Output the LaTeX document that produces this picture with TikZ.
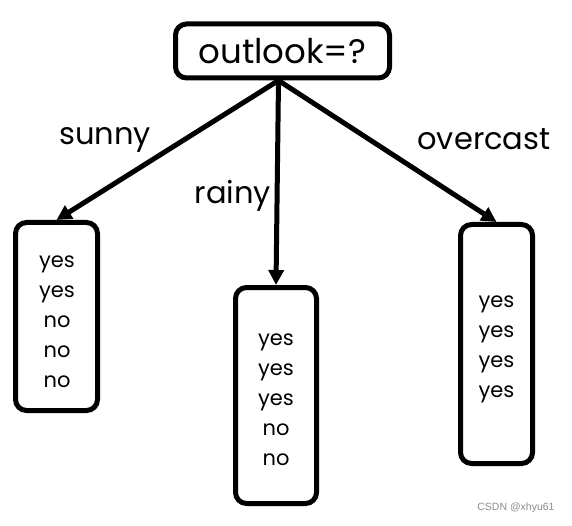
\documentclass[tikz,border=0pt]{standalone}
\usepackage{fontspec}
\setmainfont{Poppins}
\newfontfamily\wmfont{Liberation Sans}
\usetikzlibrary{arrows.meta}
\tikzset{
  box/.style={draw, line width=5pt, rounded corners=11pt, fill=white, inner sep=0pt},
  leaftext/.style={font=\fontsize{21}{30}\selectfont, align=center, inner sep=0pt},
  arr/.style={line width=5pt, -{Triangle[length=15pt,width=15pt]}},
  lbl/.style={font=\fontsize{30.5}{34}\selectfont, inner sep=0pt}
}
\begin{document}
\begin{tikzpicture}[x=1pt,y=-1pt]
\useasboundingbox (0,0) rectangle (572,526);
\node[box, minimum width=214pt, minimum height=54pt, font=\fontsize{34}{38}\selectfont] (root) at (282.5,51) {\raisebox{-1pt}{outlook=?}};
\node[box, minimum width=82pt, minimum height=188pt] (l) at (56.5,316.5) {};
\node[box, minimum width=81pt, minimum height=216pt] (m) at (276,395.5) {};
\node[box, minimum width=72pt, minimum height=239pt] (r) at (496.5,344) {};
\node[leaftext] (lt) at (57,322) {yes\\yes\\no\\no\\no};
\node[leaftext] (mt) at (276,400) {yes\\yes\\yes\\no\\no};
\node[leaftext] (rt) at (496.5,349) {yes\\yes\\yes\\yes};
\coordinate (s) at ([xshift=-4pt]root.south);
\draw[arr] (s) -- (l.north);
\draw[arr] (s) -- (m.north);
\draw[arr] (s) -- (r.north);
\node[lbl] (sunny) at (105,140) {sunny};
\node[lbl] (rainy) at (233,196) {rainy};
\node[lbl] (over) at (484,139) {overcast};
\node[font=\wmfont\fontsize{10.5}{12}\selectfont, text=black!45, inner sep=0pt] (wm) at (516,508) {CSDN @xhyu61};
\end{tikzpicture}
\end{document}
